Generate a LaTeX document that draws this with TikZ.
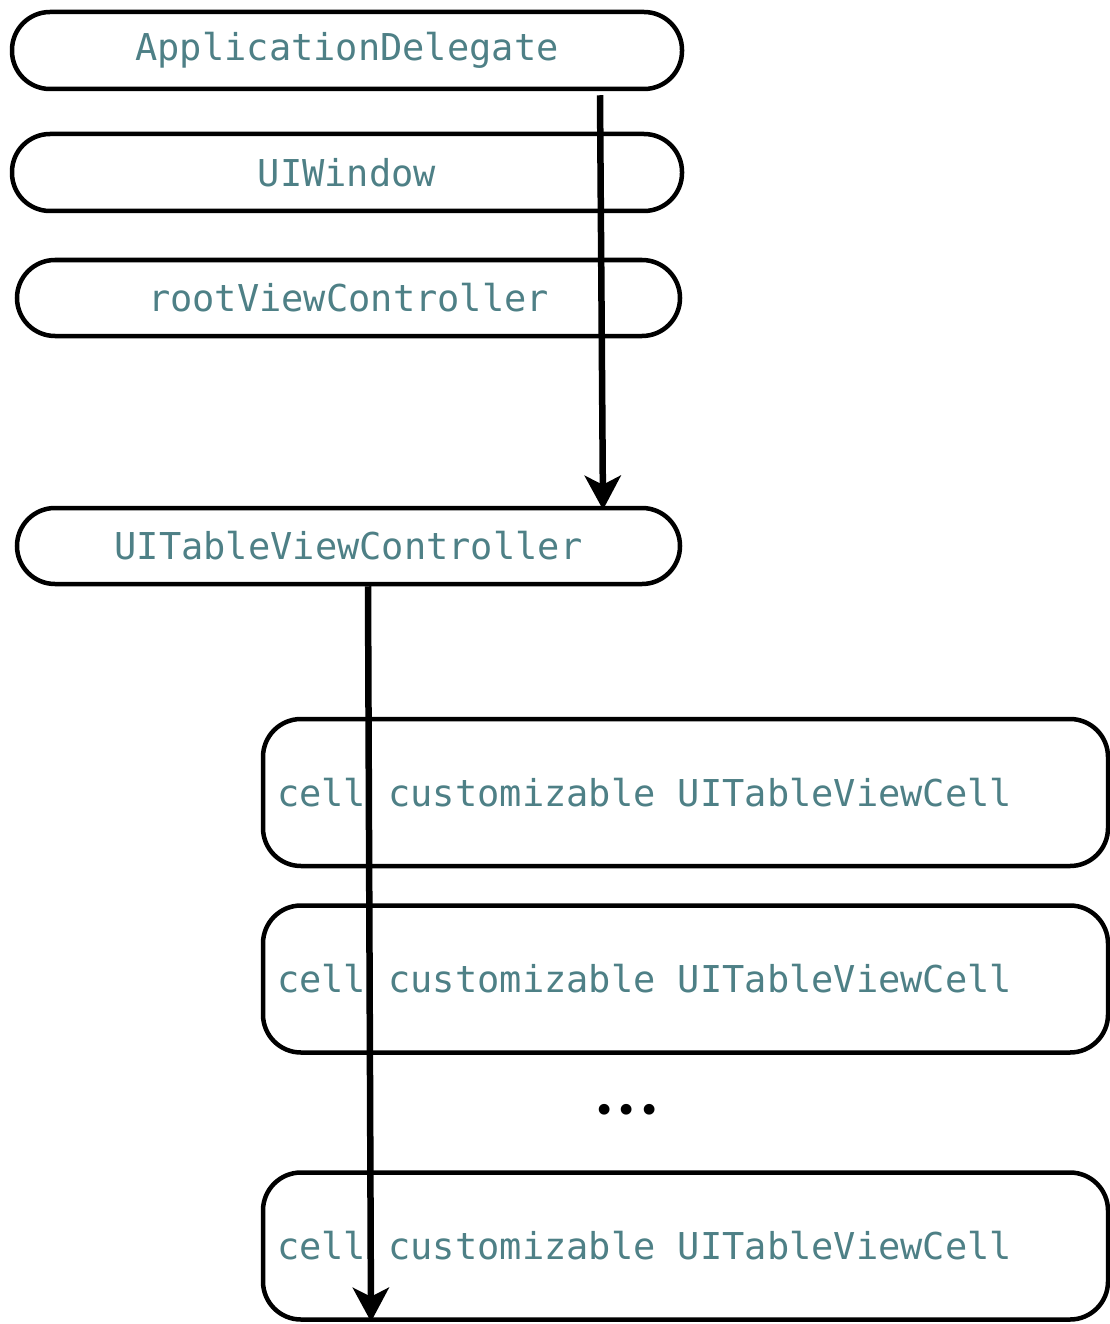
\documentclass[tikz,border=0pt]{standalone}
\usepackage{fontspec}
\setmonofont{DejaVu Sans Mono}
\usetikzlibrary{arrows.meta}
\definecolor{classteal}{RGB}{78,128,134}

\begin{document}
\begin{tikzpicture}[x=1pt,y=-1pt,font=\ttfamily\fontsize{37}{40}\selectfont]

	\tikzstyle{pill}=[draw,line width=4.5pt,rounded corners=38pt,text=classteal,inner sep=0pt]
	\tikzstyle{cellbox}=[pill,minimum width=845pt,minimum height=147pt,inner xsep=14pt]
	\tikzstyle{myarrow}=[line width=6.5pt,-{Stealth[length=34pt,width=36pt,inset=9pt]}]

	\useasboundingbox (0,0) rectangle (1110,1324);

	% view controller chain
	\node[pill,minimum width=670pt,minimum height=77pt] (appdel) at (347,50.5) {ApplicationDelegate};
	\node[pill,minimum width=670pt,minimum height=77pt] (window) at (347,172.5) {UIWindow};
	\node[pill,minimum width=663pt,minimum height=76pt] (rootvc) at (348.5,298) {rootViewController};
	\node[pill,minimum width=663pt,minimum height=76pt] (tablevc) at (348.5,546) {UITableViewController};

	% table cells
	\node[cellbox] (cellA) at (685.5,792.5) {\makebox[817pt][l]{cell\ customizable\ UITableViewCell}};
	\node[cellbox] (cellB) at (685.5,979) {\makebox[817pt][l]{cell\ customizable\ UITableViewCell}};
	\node (dots) at (627,1114) {•••};
	\node[cellbox] (cellC) at (685.5,1246) {\makebox[817pt][l]{cell\ customizable\ UITableViewCell}};

	\draw[myarrow] ([xshift=253pt,yshift=-4pt]appdel.south) -- ([xshift=254.5pt,yshift=-4pt]tablevc.north);
	\draw[myarrow] ([xshift=19.5pt]tablevc.south) -- ([xshift=-314.5pt]cellC.south);
\end{tikzpicture}
\end{document}
